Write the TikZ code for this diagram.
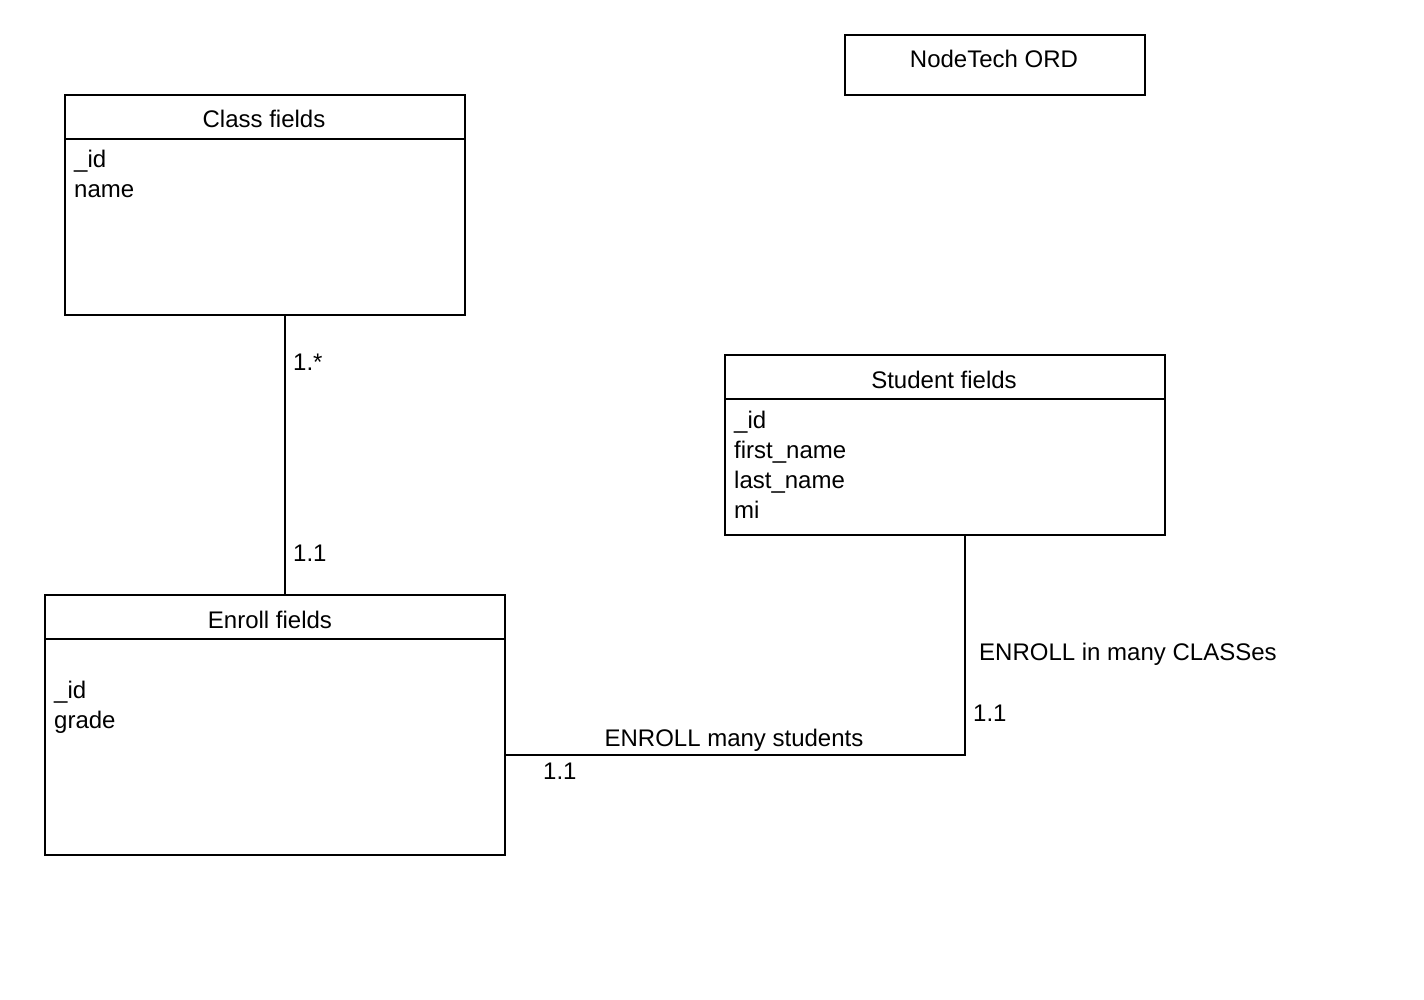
\documentclass[tikz,border=0pt]{standalone}
\usepackage{fontspec}
\setmainfont{Liberation Sans}
\begin{document}
\begin{tikzpicture}[x=1pt,y=-1pt,
  box/.style={draw,line width=1.6pt,rectangle,anchor=north west,inner sep=0pt,outer sep=0pt},
  txt/.style={anchor=base west,inner sep=0pt,font=\fontsize{24}{30}\selectfont},
  ctxt/.style={anchor=base,inner sep=0pt,font=\fontsize{24}{30}\selectfont},
  conn/.style={line width=1.6pt}]
\useasboundingbox[fill=white] (0,0) rectangle (1424,1000);
% title
\node[box,minimum width=300pt,minimum height=60pt] (title) at (845,35) {};
\node[ctxt] (titletxt) at (994,68) {NodeTech ORD};
% Class
\node[box,minimum width=400pt,minimum height=220pt] (class) at (65,95) {};
\draw[conn] (65,139) -- (465,139);
\node[ctxt] (classh) at (264,128) {Class fields};
\node[txt] (c1) at (74,168) {\_id};
\node[txt] (c2) at (74,198) {name};
% Student
\node[box,minimum width=440pt,minimum height=180pt] (student) at (725,355) {};
\draw[conn] (725,399) -- (1165,399);
\node[ctxt] (studh) at (944,388) {Student fields};
\node[txt] (s1) at (734,428) {\_id};
\node[txt] (s2) at (734,458) {first\_name};
\node[txt] (s3) at (734,488) {last\_name};
\node[txt] (s4) at (734,518) {mi};
% Enroll
\node[box,minimum width=460pt,minimum height=260pt] (enroll) at (45,595) {};
\draw[conn] (45,639) -- (505,639);
\node[ctxt] (enrh) at (270,628) {Enroll fields};
\node[txt] (e1) at (54,698) {\_id};
\node[txt] (e2) at (54,728) {grade};
% connectors
\coordinate (corner) at (965,755);
\draw[conn] (class.south -| 285,0) -- (enroll.north -| 285,0);
\draw[conn] (enroll.east |- corner) -- (corner) -- (student.south -| corner);
% labels
\node[txt] (l1) at (293,370) {1.*};
\node[txt] (l2) at (293,561) {1.1};
\node[ctxt] (l3) at (734,746) {ENROLL many students};
\node[txt] (l4) at (543,779) {1.1};
\node[txt] (l5) at (973,721) {1.1};
\node[txt] (l6) at (979,660) {ENROLL in many CLASSes};
\end{tikzpicture}
\end{document}
